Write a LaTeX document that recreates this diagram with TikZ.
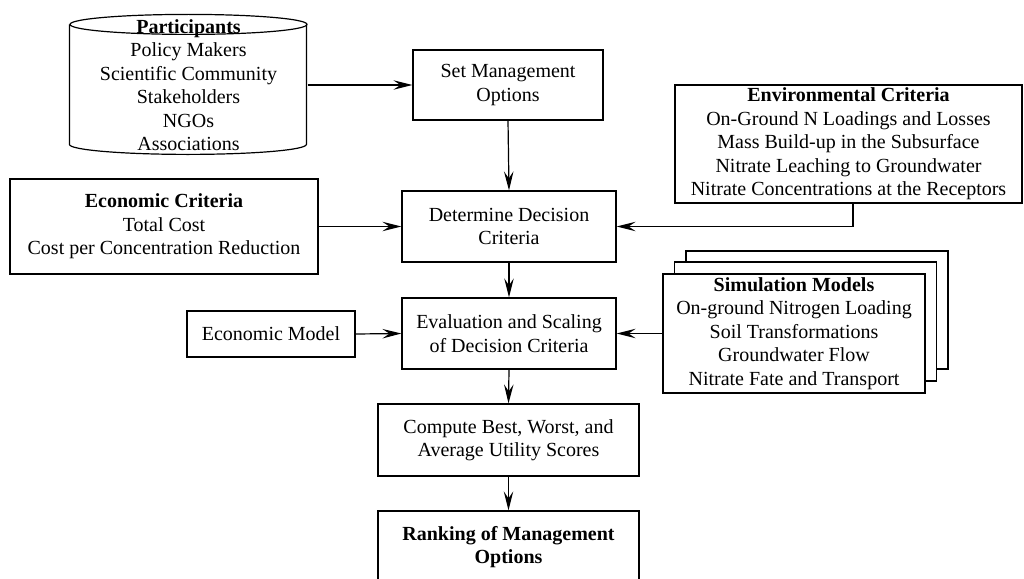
\documentclass[tikz,border=0pt]{standalone}
\usepackage{fontspec}
\setmainfont{Liberation Serif}
\usetikzlibrary{arrows.meta}
\begin{document}
\begin{tikzpicture}[x=1pt,y=-1pt,
  line width=1.2pt,
  every node/.style={font=\fontsize{20}{23.5}\selectfont, align=center, inner sep=0pt},
  box/.style={draw, rectangle, fill=white},
  flow/.style={-{Stealth[length=19pt,width=9.5pt,inset=7pt]}}
]
\path[use as bounding box, clip] (0,0) rectangle (1024,578);

% participants (drum shape drawn around the text node)
\node[minimum width=237pt, minimum height=140pt] (part) at (188.5,85)
  {\textbf{Participants}\\Policy Makers\\Scientific Community\\Stakeholders\\NGOs\\Associations};
\draw (part.north) ++(0,10) ellipse [x radius=118.5pt, y radius=10pt];
\draw (part.north west) ++(0,10) -- ++(0,120)
  arc [start angle=180, end angle=360, x radius=118.5pt, y radius=10pt] -- ++(0,-120);

% main chain
\node[box, minimum width=190pt, minimum height=70pt] (set) at (508,85) {Set Management\\Options};
\node[box, minimum width=214pt, minimum height=71pt] (det) at (509,226.5) {Determine Decision\\Criteria};
\node[box, minimum width=214pt, minimum height=71pt] (eval) at (509,333.5) {Evaluation and Scaling\\of Decision Criteria};
\node[box, minimum width=261pt, minimum height=72pt] (comp) at (508.5,440) {Compute Best, Worst, and\\Average Utility Scores};
\node[box, minimum width=261pt, minimum height=72pt] (rank) at (508.5,547) {\textbf{Ranking of Management}\\\textbf{Options}};

% side inputs
\node[box, minimum width=308pt, minimum height=95pt] (ecrit) at (164,226.5)
  {\textbf{Economic Criteria}\\Total Cost\\Cost per Concentration Reduction};
\node[box, minimum width=347pt, minimum height=118pt] (env) at (848.5,144)
  {\textbf{Environmental Criteria}\\On-Ground N Loadings and Losses\\Mass Build-up in the Subsurface\\Nitrate Leaching to Groundwater\\Nitrate Concentrations at the Receptors};
\node[box, minimum width=168pt, minimum height=46pt] (emod) at (271,334) {Economic Model};

% stacked simulation models
\node[box, minimum width=262pt, minimum height=118pt] (simback) at (817,310) {};
\node[box, minimum width=262pt, minimum height=119pt] (simmid) at (805.5,321.5) {};
\node[box, minimum width=262pt, minimum height=119pt] (sim) at (794,333.5)
  {\textbf{Simulation Models}\\On-ground Nitrogen Loading\\Soil Transformations\\Groundwater Flow\\Nitrate Fate and Transport};

% connectors
\draw[flow] (part.east) -- (set.west);
\draw[flow] (set.south) -- (det.north);
\draw[flow] (det.south) -- (eval.north);
\draw[flow] (eval.south) -- (comp.north);
\draw[flow] (comp.south) -- (rank.north);
\draw[flow] (ecrit.east) -- (det.west);
\draw[flow] ([xshift=4.5pt]env.south) |- (det.east);
\draw[flow] (emod.east) -- (eval.west);
\draw[flow] (sim.west) -- (eval.east);
\end{tikzpicture}
\end{document}
